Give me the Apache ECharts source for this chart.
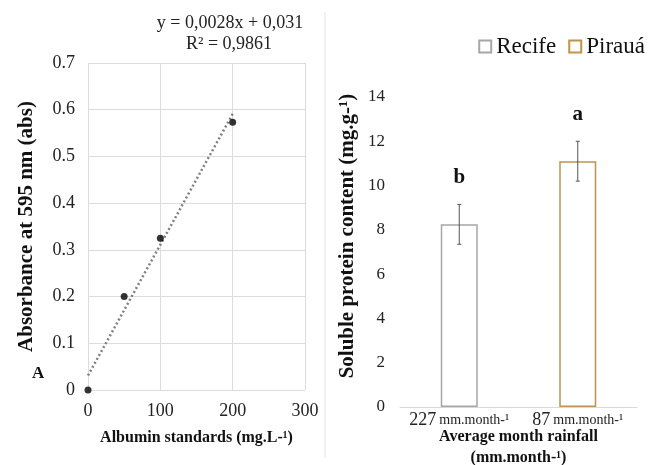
<!DOCTYPE html>
<html><head><meta charset="utf-8">
<script src="https://cdn.jsdelivr.net/npm/echarts@6/dist/echarts.min.js"></script>
<style>html,body{margin:0;padding:0;background:#fff}#c{width:648px;height:465px}</style>
</head><body><div id="c"></div>
<script>
// Left panel: albumin standard curve
const stdConc = [0, 50, 100, 200];
const stdAbs = [0, 0.2, 0.325, 0.573];
const trendX = [0, 200];
const trendY = [0.031, 0.591];
const eqText = 'y = 0,0028x + 0,031';
const r2Text = 'R² = 0,9861';
// Right panel: soluble protein
const sites = ['Recife', 'Pirauá'];
const rainfallNum = ['227', '87'];
const protein = [8.25, 11.1];
const proteinErr = [0.9, 0.9];
const letters = ['b', 'a'];

const serif = '"Liberation Serif", "Times New Roman", serif';
const chart = echarts.init(document.getElementById('c'));
const colors = ['#a6a6a6', '#c0914f'];

function errSeries() {
  return {
    type: 'custom', xAxisIndex: 1, yAxisIndex: 1, z: 5, silent: true,
    data: protein.map((v, i) => [i, v - proteinErr[i], v + proteinErr[i]]),
    renderItem: function (params, api) {
      const lo = api.coord([api.value(0), api.value(1)]);
      const hi = api.coord([api.value(0), api.value(2)]);
      const style = { stroke: '#555', lineWidth: 1 };
      return { type: 'group', children: [
        { type: 'line', shape: { x1: lo[0], y1: lo[1], x2: hi[0], y2: hi[1] }, style },
        { type: 'line', shape: { x1: lo[0] - 2, y1: lo[1], x2: lo[0] + 2, y2: lo[1] }, style },
        { type: 'line', shape: { x1: hi[0] - 2, y1: hi[1], x2: hi[0] + 2, y2: hi[1] }, style }
      ]};
    }
  };
}

chart.setOption({
  animation: false,
  backgroundColor: '#fff',
  textStyle: { fontFamily: serif },
  grid: [
    { left: 88, right: 343, top: 63, bottom: 75, outerBoundsMode: 'none', containLabel: false },
    { left: 400, right: 11, top: 97, bottom: 58, outerBoundsMode: 'none', containLabel: false }
  ],
  legend: {
    data: sites, right: -2, top: 30, itemWidth: 12, itemHeight: 12, itemGap: 12,
    icon: 'rect',
    textStyle: { fontFamily: serif, fontSize: 23, color: '#111' }
  },
  graphic: [
    { type: 'text', x: 230, y: 23, style: { text: eqText, font: '18px ' + serif, fill: '#222', textAlign: 'center', textVerticalAlign: 'middle' } },
    { type: 'text', x: 229, y: 44, style: { text: r2Text, font: '18px ' + serif, fill: '#222', textAlign: 'center', textVerticalAlign: 'middle' } },
    { type: 'text', left: 32, top: 365, style: { text: 'A', font: 'bold 17px ' + serif, fill: '#111' } },
    { type: 'line', shape: { x1: 325, y1: 12, x2: 325, y2: 458 }, style: { stroke: '#e3e3e3', lineWidth: 1 } }
  ],
  xAxis: [
    { type: 'value', gridIndex: 0, min: 0, max: 300, interval: 100,
      axisLine: { show: false }, axisTick: { show: false },
      splitLine: { lineStyle: { color: '#dcdcdc' } },
      axisLabel: { fontSize: 18, color: '#222', margin: 12, fontFamily: serif },
      name: 'Albumin standards (mg.L-¹)', nameLocation: 'middle', nameGap: 40,
      nameTextStyle: { fontSize: 16, fontWeight: 'bold', color: '#111', fontFamily: serif } },
    { type: 'category', gridIndex: 1, data: rainfallNum,
      axisLine: { lineStyle: { color: '#d9d9d9' } }, axisTick: { show: false },
      axisLabel: { interval: 0, margin: 4, formatter: v => '{n|' + v + '} {u|mm.month-¹}',
        rich: { n: { fontSize: 18, color: '#222', fontFamily: serif }, u: { fontSize: 14, color: '#222', fontFamily: serif } } },
      name: 'Average month rainfall\n(mm.month-¹)', nameLocation: 'middle', nameGap: 19, nameMoveOverlap: false,
      nameTextStyle: { fontSize: 16, fontWeight: 'bold', color: '#111', lineHeight: 21, fontFamily: serif } }
  ],
  yAxis: [
    { type: 'value', gridIndex: 0, min: 0, max: 0.7, interval: 0.1,
      axisLine: { show: false }, axisTick: { show: false },
      splitLine: { lineStyle: { color: '#dcdcdc' } },
      axisLabel: { fontSize: 18, color: '#222', margin: 13, fontFamily: serif,
        formatter: v => String(Math.round(v * 10) / 10) },
      name: 'Absorbance at 595 nm (abs)', nameLocation: 'middle', nameGap: 51,
      nameTextStyle: { fontSize: 21, fontWeight: 'bold', color: '#111', fontFamily: serif } },
    { type: 'value', gridIndex: 1, min: 0, max: 14, interval: 2,
      axisLine: { show: false }, axisTick: { show: false }, splitLine: { show: false },
      axisLabel: { fontSize: 17, color: '#222', margin: 15, fontFamily: serif },
      name: 'Soluble protein content (mg.g-¹)', nameLocation: 'middle', nameGap: 42,
      nameTextStyle: { fontSize: 21, fontWeight: 'bold', color: '#111', fontFamily: serif, padding: [0, 0, 0, 32] } }
  ],
  series: [
    { type: 'line', xAxisIndex: 0, yAxisIndex: 0, symbol: 'none', silent: true,
      data: trendX.map((x, i) => [x, trendY[i]]),
      lineStyle: { color: '#7f7f7f', width: 2.5, type: [2, 2.5] } },
    { type: 'scatter', xAxisIndex: 0, yAxisIndex: 0, symbolSize: 7, z: 5,
      itemStyle: { color: '#000' },
      data: stdConc.map((x, i) => [x, stdAbs[i]]) },
    ...sites.map((s, k) => ({
      name: s, type: 'bar', xAxisIndex: 1, yAxisIndex: 1, barWidth: 37, barGap: '-100%',
      itemStyle: { color: '#fff', borderColor: colors[k], borderWidth: 1.5 },
      label: { show: true, position: 'top', distance: 36, formatter: () => letters[k],
        fontSize: 21, fontWeight: 'bold', color: '#111', fontFamily: serif },
      data: protein.map((v, i) => i === k ? v : '-')
    })),
    errSeries()
  ]
});
</script></body></html>
